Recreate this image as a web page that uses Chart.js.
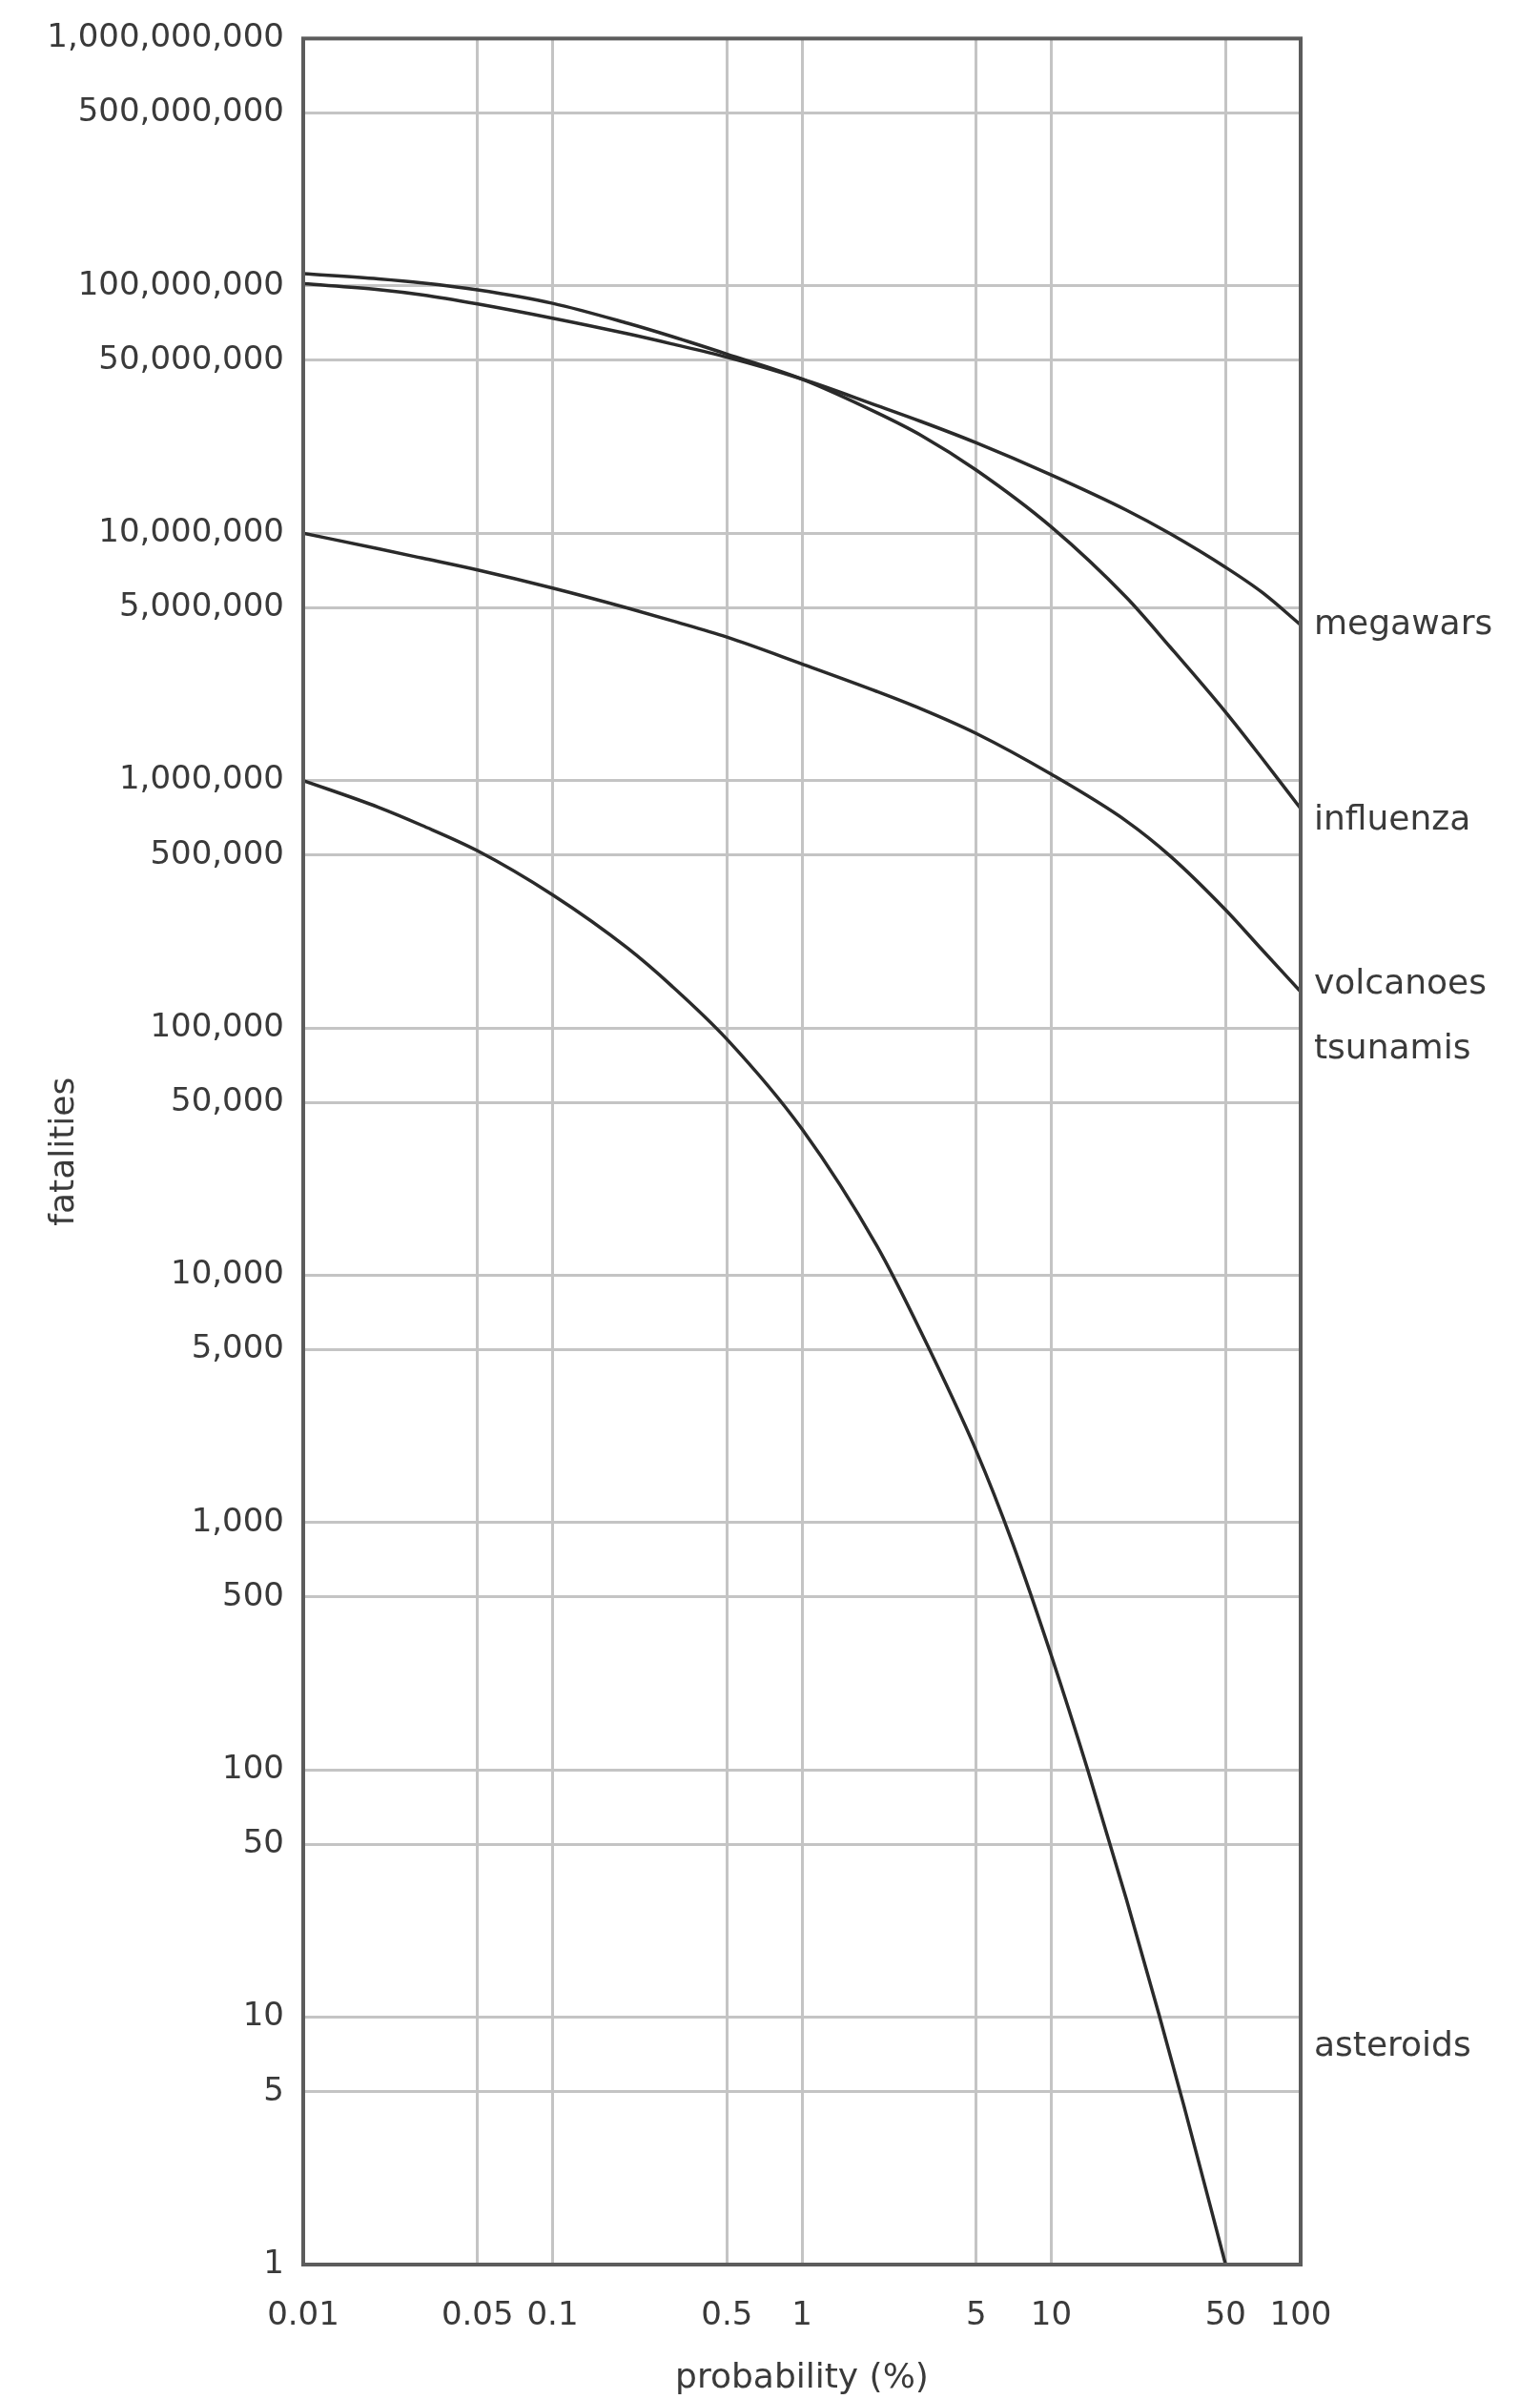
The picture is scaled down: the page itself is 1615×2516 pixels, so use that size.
<!DOCTYPE html>
<html>
<head>
<meta charset="utf-8">
<title>fatalities vs probability</title>
<script src="https://cdn.jsdelivr.net/npm/chart.js@4.4.1/dist/chart.umd.min.js"></script>
<style>
  body { margin: 0; background: #fff; }
  #wrap { width: 1615px; height: 2516px; }
</style>
</head>
<body>
<div id="wrap"><canvas id="chart" width="1615" height="2516"></canvas></div>
<script>
// Tick values and labels
const xTicks = [0.01, 0.05, 0.1, 0.5, 1, 5, 10, 50, 100];
const xTickLabels = ['0.01', '0.05', '0.1', '0.5', '1', '5', '10', '50', '100'];
const yTicks = [1, 5, 10, 50, 100, 500, 1e3, 5e3, 1e4, 5e4, 1e5, 5e5, 1e6, 5e6, 1e7, 5e7, 1e8, 5e8, 1e9];
const yTickLabels = ['1', '5', '10', '50', '100', '500', '1,000', '5,000', '10,000', '50,000',
  '100,000', '500,000', '1,000,000', '5,000,000', '10,000,000', '50,000,000',
  '100,000,000', '500,000,000', '1,000,000,000'];

// Curves: probability (%) and fatalities
const megawarsP = [0.01, 0.02, 0.03, 0.05, 0.1, 0.2, 0.3, 0.5, 1, 2, 3, 5, 10, 20, 30, 50, 70, 100];
const megawarsF = [1.02e8, 9.66e7, 9.2e7, 8.45e7, 7.4e7, 6.4e7, 5.83e7, 5.15e7, 4.2e7, 3.28e7, 2.83e7, 2.32e7, 1.72e7, 1.24e7, 9.95e6, 7.28e6, 5.77e6, 4.26e6];

const influenzaP = [0.01, 0.02, 0.03, 0.05, 0.1, 0.2, 0.3, 0.5, 1, 2, 3, 5, 10, 20, 30, 50, 70, 100];
const influenzaF = [1.12e8, 1.067e8, 1.028e8, 9.63e7, 8.5e7, 7.06e7, 6.25e7, 5.3e7, 4.2e7, 3.07e7, 2.49e7, 1.8e7, 1.06e7, 5.5e6, 3.46e6, 1.89e6, 1.23e6, 7.7e5];

const volcanoesP = [0.01, 0.02, 0.03, 0.05, 0.1, 0.2, 0.3, 0.5, 1, 2, 3, 5, 10, 20, 30, 50, 70, 100];
const volcanoesF = [1.0e7, 8.65e6, 7.93e6, 7.1e6, 6.0e6, 4.98e6, 4.43e6, 3.8e6, 2.96e6, 2.29e6, 1.95e6, 1.55e6, 1.06e6, 6.86e5, 4.95e5, 3.0e5, 2.07e5, 1.4e5];

const asteroidsP = [0.01, 0.02, 0.03, 0.05, 0.1, 0.2, 0.3, 0.5, 1, 2, 3, 5, 7, 10, 14, 20, 27, 34, 50];
const asteroidsF = [1.0e6, 7.8e5, 6.58e5, 5.2e5, 3.45e5, 2.1e5, 1.48e5, 9.0e4, 3.9e4, 1.31e4, 5.9e3, 1.95e3, 824, 290, 100, 30, 10.3, 4.4, 1];

// Names written at the right edge and the level they sit at
const curveNames = ['megawars', 'influenza', 'volcanoes', 'tsunamis', 'asteroids'];
const curveLabelAt = [4.26e6, 6.9e5, 1.49e5, 8.2e4, 7.6];

const ink = '#3a3a3a';
const gridGrey = '#c4c4c4';
const family = '"DejaVu Sans", sans-serif';

function toPoints(ps, fs){
  return ps.map((p, i) => ({x: p, y: fs[i]}));
}

function curve(ps, fs){
  return {
    data: toPoints(ps, fs),
    borderColor: '#2a2a2a',
    borderWidth: 3.5,
    pointRadius: 0,
    fill: false,
    cubicInterpolationMode: 'monotone'
  };
}

//Frame round the plot area
const frame = {
  id: 'frame',
  afterDatasetsDraw(chart){
    const {ctx, chartArea: a} = chart;
    ctx.save();
    ctx.strokeStyle = '#5c5c5c';
    ctx.lineWidth = 4;
    ctx.strokeRect(a.left, a.top, a.right - a.left, a.bottom - a.top);
    ctx.restore();
  }
};

//Curve names beside the right edge
const endLabels = {
  id: 'endLabels',
  afterDraw(chart){
    const {ctx, chartArea: a, scales} = chart;
    ctx.save();
    ctx.font = '36px ' + family;
    ctx.fillStyle = ink;
    ctx.textBaseline = 'middle';
    curveNames.forEach((name, i) => {
      ctx.fillText(name, a.right + 14, scales.y.getPixelForValue(curveLabelAt[i]));
    });
    ctx.restore();
  }
};

new Chart(document.getElementById('chart'), {
  type: 'line',
  data: {
    datasets: [
      curve(megawarsP, megawarsF),
      curve(influenzaP, influenzaF),
      curve(volcanoesP, volcanoesF),
      curve(asteroidsP, asteroidsF)
    ]
  },
  options: {
    responsive: false,
    animation: false,
    layout: { padding: { top: 32, right: 251, bottom: 0, left: 0 } },
    plugins: { legend: { display: false }, tooltip: { enabled: false } },
    scales: {
      x: {
        type: 'logarithmic',
        min: 0.01,
        max: 100,
        afterBuildTicks: axis => { axis.ticks = xTicks.map(v => ({value: v})); },
        afterFit: axis => { axis.height = 141; },
        grid: { color: gridGrey, lineWidth: 3, drawTicks: false },
        border: { display: false },
        ticks: {
          autoSkip: false,
          maxRotation: 0,
          padding: 34,
          color: ink,
          font: { family: family, size: 34 },
          callback: (v, i) => xTickLabels[i]
        },
        title: {
          display: true,
          text: 'probability (%)',
          color: ink,
          font: { family: family, size: 36 },
          padding: { top: 0, bottom: 0 }
        }
      },
      y: {
        type: 'logarithmic',
        min: 1,
        max: 1e9,
        afterBuildTicks: axis => { axis.ticks = yTicks.map(v => ({value: v})); },
        afterFit: axis => { axis.width = 318; },
        grid: { color: gridGrey, lineWidth: 3, drawTicks: false },
        border: { display: false },
        ticks: {
          autoSkip: false,
          padding: 20,
          color: ink,
          font: { family: family, size: 34 },
          callback: (v, i) => yTickLabels[i]
        },
        title: {
          display: true,
          text: 'fatalities',
          color: ink,
          font: { family: family, size: 36 },
          padding: { top: 46, bottom: 0 }
        }
      }
    }
  },
  plugins: [frame, endLabels]
});
</script>
</body>
</html>
